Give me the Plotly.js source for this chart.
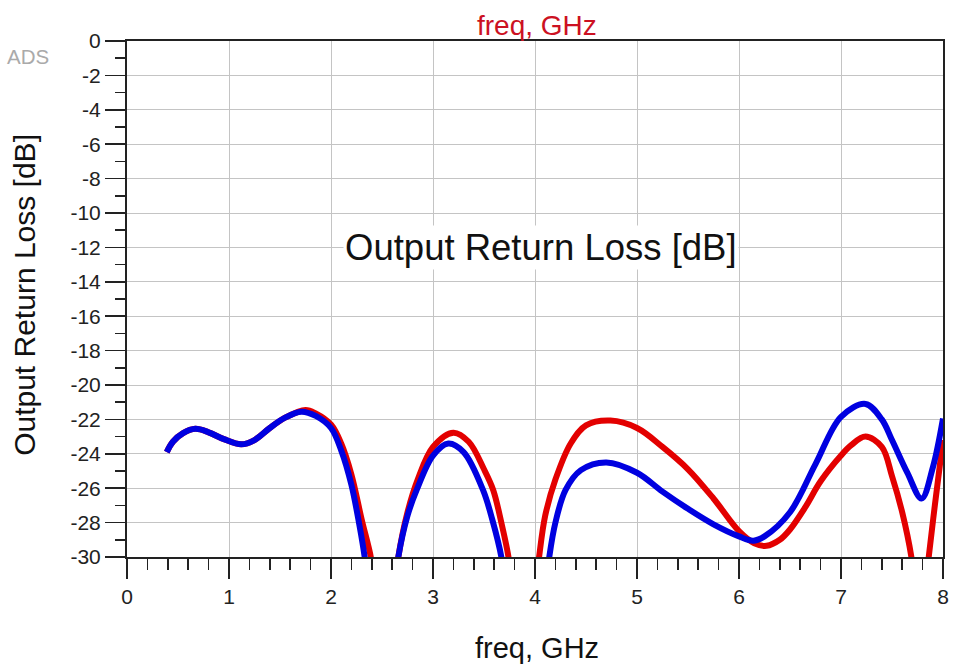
<!DOCTYPE html>
<html>
<head>
<meta charset="utf-8">
<script src="https://cdn.plot.ly/plotly-3.0.1.min.js"></script>
<style>html,body{margin:0;padding:0;background:#fff;}#chart{width:956px;height:668px;}</style>
</head>
<body>
<div id="chart"></div>
<script>
// Red trace (lobes separated by null where curve drops below -30 dB)
const redFreq = [0.39,0.45,0.55,0.67,0.8,0.95,1.12,1.25,1.4,1.55,1.75,1.85,2.0,2.1,2.2,2.3,2.39,2.41,null,
  2.64,2.66,2.75,2.85,3.0,3.2,3.35,3.5,3.59,3.67,3.74,3.76,null,
  4.02,4.04,4.1,4.2,4.35,4.5,4.74,5.0,5.25,5.5,5.75,6.0,6.15,6.27,6.4,6.5,6.65,6.8,7.0,7.1,7.24,7.4,7.5,7.6,7.69,7.71,null,
  7.84,7.86,7.92,8.0];
const redDB = [-23.9,-23.3,-22.8,-22.55,-22.75,-23.15,-23.45,-23.2,-22.5,-21.9,-21.45,-21.65,-22.3,-23.4,-25.2,-27.8,-30,-31,null,
  -31,-30,-27.4,-25.5,-23.6,-22.77,-23.3,-24.9,-26.1,-28.0,-30,-31,null,
  -31,-30,-27.6,-25.5,-23.4,-22.35,-22.07,-22.5,-23.6,-24.9,-26.6,-28.5,-29.2,-29.35,-29.0,-28.4,-27.1,-25.6,-24.1,-23.5,-23.0,-23.6,-25.3,-27.4,-30,-31,null,
  -31,-30,-27.0,-23.2];

// Blue trace
const blueFreq = [0.39,0.45,0.55,0.67,0.8,0.95,1.12,1.25,1.4,1.55,1.71,1.85,2.0,2.1,2.2,2.28,2.33,2.35,null,
  2.64,2.66,2.75,2.84,3.0,3.15,3.3,3.49,3.58,3.67,3.69,null,
  4.12,4.14,4.2,4.3,4.45,4.7,5.0,5.25,5.5,5.75,6.0,6.14,6.25,6.5,6.75,7.0,7.24,7.4,7.5,7.65,7.79,7.9,8.0];
const blueDB = [-23.9,-23.3,-22.8,-22.55,-22.75,-23.15,-23.45,-23.2,-22.5,-21.9,-21.55,-21.8,-22.5,-23.8,-25.8,-28.2,-30,-31,null,
  -31,-30,-27.6,-26.1,-24.1,-23.4,-23.9,-26.1,-27.8,-30,-31,null,
  -31,-30,-28.0,-26.1,-24.95,-24.5,-25.1,-26.2,-27.2,-28.1,-28.8,-29.05,-28.8,-27.4,-24.6,-21.85,-21.1,-22.0,-23.2,-25.1,-26.6,-24.8,-21.95];

const xTickVals = [0,1,2,3,4,5,6,7,8];
const yTickVals = [0,-2,-4,-6,-8,-10,-12,-14,-16,-18,-20,-22,-24,-26,-28,-30];

const traces = [
  {x: redFreq, y: redDB, type:'scatter', mode:'lines', connectgaps:false,
   line:{color:'#e30000', width:6, shape:'spline', smoothing:1}, hoverinfo:'skip'},
  {x: blueFreq, y: blueDB, type:'scatter', mode:'lines', connectgaps:false,
   line:{color:'#0000e0', width:6, shape:'spline', smoothing:1}, hoverinfo:'skip'}
];

const font = 'Arial, "Liberation Sans", sans-serif';
const layout = {
  width:956, height:668,
  margin:{l:127, r:13, t:41, b:111},
  paper_bgcolor:'#fff', plot_bgcolor:'#fff',
  showlegend:false,
  font:{family:font, color:'#222'},
  xaxis:{
    range:[0,8], tickvals:xTickVals, ticktext:xTickVals.map(String),
    showgrid:true, gridcolor:'#c4c4c4', gridwidth:1,
    showline:true, linecolor:'#222', linewidth:2, mirror:true,
    ticks:'outside', ticklen:20, tickwidth:1.5, tickcolor:'#222',
    minor:{dtick:0.2, ticks:'outside', ticklen:11, tickwidth:1.5, tickcolor:'#222', showgrid:false},
    tickfont:{size:21, color:'#222', family:font},
    zeroline:false
  },
  yaxis:{
    range:[-30,0], tickvals:yTickVals, ticktext:yTickVals.map(String),
    showgrid:true, gridcolor:'#c4c4c4', gridwidth:1,
    showline:true, linecolor:'#222', linewidth:2, mirror:true,
    ticks:'outside', ticklen:20, tickwidth:1.5, tickcolor:'#222',
    minor:{dtick:1, ticks:'outside', ticklen:10, tickwidth:1.5, tickcolor:'#222', showgrid:false},
    tickfont:{size:21, color:'#222', family:font},
    zeroline:false
  },
  annotations:[
    {text:'Output Return Loss [dB]', xref:'paper', yref:'paper', x:0.507, y:0.599, xanchor:'center', yanchor:'middle',
     showarrow:false, bgcolor:'#fff', font:{size:36.5, color:'#111', family:font}},
    {text:'freq, GHz', xref:'paper', yref:'paper', x:0.502, y:1.031, xanchor:'center', yanchor:'middle',
     showarrow:false, font:{size:28, color:'#cc1122', family:font}},
    {text:'freq, GHz', xref:'paper', yref:'paper', x:0.502, y:-0.176, xanchor:'center', yanchor:'middle',
     showarrow:false, font:{size:29, color:'#111', family:font}},
    {text:'Output Return Loss [dB]', xref:'paper', yref:'paper', x:-0.125, y:0.508, xanchor:'center', yanchor:'middle',
     textangle:-90, showarrow:false, font:{size:30, color:'#111', family:font}},
    {text:'ADS', xref:'paper', yref:'paper', x:-0.121, y:0.969, xanchor:'center', yanchor:'middle',
     showarrow:false, font:{size:20.5, color:'#aaaaaa', family:font}}
  ]
};

Plotly.newPlot('chart', traces, layout, {staticPlot:true, displayModeBar:false});
</script>
</body>
</html>
